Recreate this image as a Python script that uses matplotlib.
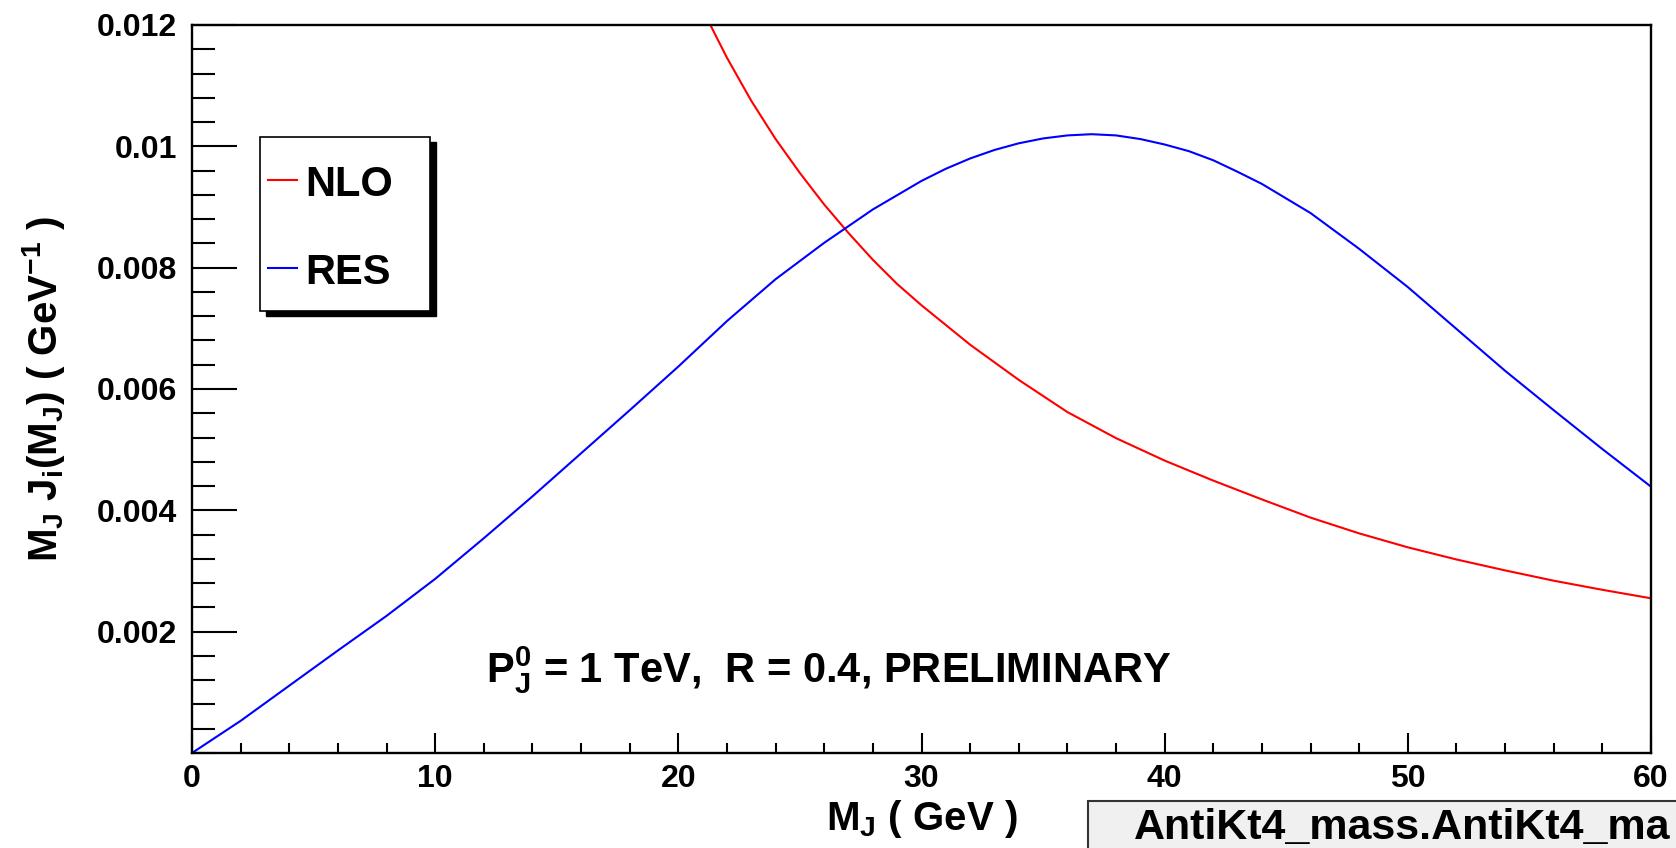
import numpy as np
import matplotlib
matplotlib.use("Agg")
import matplotlib.pyplot as plt
from matplotlib.patches import Rectangle
from matplotlib.lines import Line2D
from matplotlib.ticker import FixedLocator, MultipleLocator


plt.rcParams["font.family"] = ["Liberation Sans", "DejaVu Sans"]
plt.rcParams["font.weight"] = "bold"
plt.rcParams["mathtext.fontset"] = "custom"
plt.rcParams["mathtext.rm"] = "Liberation Sans:bold"
plt.rcParams["mathtext.it"] = "Liberation Sans:bold"
plt.rcParams["mathtext.bf"] = "Liberation Sans:bold"

# jet mass grid (GeV)
mass_res = [0, 2, 4, 6, 8, 10, 12, 14, 16, 18, 20, 22, 24, 26, 28, 30, 31,
            32, 33, 34, 35, 36, 37, 38, 39, 40, 41, 42, 43, 44, 46, 48, 50,
            52, 54, 56, 58, 60]
res = [0.0, 0.00053, 0.00111, 0.00169, 0.00226, 0.00287, 0.00354, 0.00423,
       0.00494, 0.00565, 0.00637, 0.00712, 0.00781, 0.00841, 0.00896, 0.00943,
       0.00963, 0.00980, 0.00994, 0.01005, 0.01013, 0.01018, 0.01020, 0.01018,
       0.01012, 0.01003, 0.00992, 0.00977, 0.00958, 0.00938, 0.00890, 0.00831,
       0.00768, 0.00699, 0.00630, 0.00565, 0.00501, 0.00439]

mass_nlo = [20, 21, 22, 23, 24, 25, 26, 27, 28, 29, 30, 32, 34, 36, 38, 40,
            42, 44, 46, 48, 50, 52, 54, 56, 58, 60]
nlo = [0.0131, 0.01225, 0.01146, 0.01075, 0.01012, 0.00956, 0.00904,
       0.00857, 0.00813, 0.00773, 0.00738, 0.00673, 0.00615, 0.00562,
       0.00519, 0.00482, 0.00449, 0.00418, 0.00388, 0.00362, 0.00339,
       0.00319, 0.00301, 0.00284, 0.00269, 0.00255]

ytick_vals = [0.002, 0.004, 0.006, 0.008, 0.010, 0.012]
ytick_labels = ["0.002", "0.004", "0.006", "0.008", "0.01", "0.012"]


fig = plt.figure(figsize=(16.76, 8.48), dpi=100)
ax = fig.add_axes([192 / 1676, 1 - 753 / 848, 1459 / 1676, 728 / 848])

ax.plot(mass_nlo, nlo, color="#ff0000", lw=1.5)
ax.plot(mass_res, res, color="#0000ff", lw=1.5)

ax.set_xlim(0, 60)
ax.set_ylim(0, 0.012)

ax.xaxis.set_major_locator(MultipleLocator(10))
ax.xaxis.set_minor_locator(MultipleLocator(2))
ax.yaxis.set_major_locator(FixedLocator(ytick_vals))
ax.yaxis.set_minor_locator(MultipleLocator(0.0004))
ax.set_yticklabels(ytick_labels)

ax.tick_params(axis="both", which="both", direction="in", top=False, right=False,
               width=1.5, labelsize=23)
ax.tick_params(axis="x", which="major", length=14.4, pad=8)
ax.tick_params(axis="x", which="minor", length=7.2)
ax.tick_params(axis="y", which="major", length=32.4, pad=11)
ax.tick_params(axis="y", which="minor", length=16.6)
for lab in ax.get_xticklabels() + ax.get_yticklabels():
    lab.set_fontweight("bold")
for s in ax.spines.values():
    s.set_linewidth(1.7)

ax.set_xlabel("M$_J$ ( GeV )", fontsize=29, fontweight="bold")
ax.set_ylabel("M$_J$ J$_i$(M$_J$) ( GeV$^{-1}$ )", fontsize=29, fontweight="bold")
ax.xaxis.set_label_coords(0.5, -0.062)
ax.yaxis.set_label_coords(-0.086, 0.5)

ax.text(0.2015, 0.0975, "P$_J^0$ = 1 TeV,  R = 0.4, PRELIMINARY",
        transform=ax.transAxes, fontsize=30, fontweight="bold", va="baseline")

# legend box with ROOT-style shadow
ax.add_patch(Rectangle((0.0466 + 0.0041, 0.6071 - 0.0069), 0.1165, 0.2390,
                       transform=ax.transAxes, facecolor="black", edgecolor="black",
                       zorder=5, clip_on=False))
ax.add_patch(Rectangle((0.0466, 0.6071), 0.1165, 0.2390, transform=ax.transAxes,
                       facecolor="white", edgecolor="black", lw=1.2, zorder=6,
                       clip_on=False))
ax.add_line(Line2D([0.0521, 0.0720], [0.7871, 0.7871], transform=ax.transAxes,
                   color="#ff0000", lw=1.5, zorder=7))
ax.add_line(Line2D([0.0521, 0.0720], [0.6662, 0.6662], transform=ax.transAxes,
                   color="#0000ff", lw=1.5, zorder=7))
ax.text(0.0775, 0.7651, "NLO", transform=ax.transAxes, fontsize=30,
        fontweight="bold", va="baseline", zorder=8)
ax.text(0.0775, 0.6442, "RES", transform=ax.transAxes, fontsize=30,
        fontweight="bold", va="baseline", zorder=8)

# histogram name box, running off the canvas edge as in the original
fig.patches.append(Rectangle((1088 / 1676, -0.01), 0.4, 1 - 801 / 848 + 0.01,
                             transform=fig.transFigure, facecolor="#f0f0f0",
                             edgecolor="#333333", lw=1.5))
fig.text(1134 / 1676, 1 - 839 / 848, "AntiKt4_mass.AntiKt4_ma",
         fontsize=31, fontweight="bold", va="baseline")

fig.savefig("out.png", dpi=100)
